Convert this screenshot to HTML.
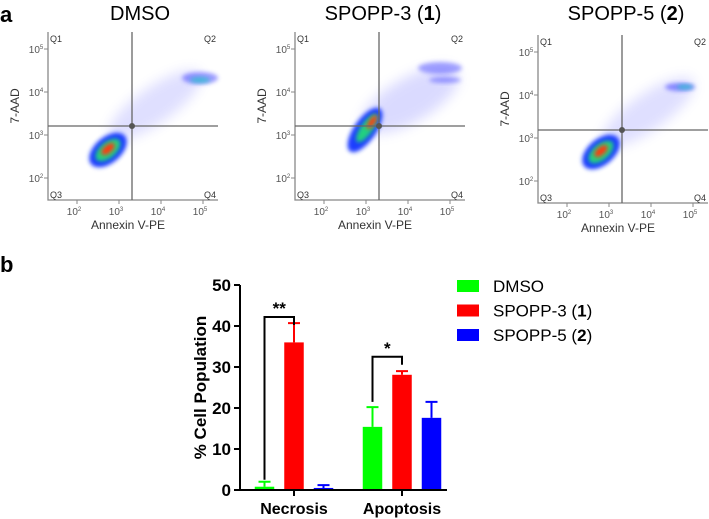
<!DOCTYPE html>
<html><head><meta charset="utf-8"><style>
body{margin:0;background:#fff;width:709px;height:519px;overflow:hidden;font-family:"Liberation Sans",sans-serif}
svg{position:absolute;left:0;top:0}
</style></head><body>
<svg width="709" height="519" viewBox="0 0 709 519">
<defs>
<filter id="b2" x="-50%" y="-50%" width="200%" height="200%"><feGaussianBlur stdDeviation="2"/></filter>
<filter id="b4" x="-50%" y="-50%" width="200%" height="200%"><feGaussianBlur stdDeviation="6"/></filter>
</defs>
<text x="0" y="22" font-size="22" font-weight="bold">a</text>
<text x="0" y="272" font-size="22" font-weight="bold">b</text>
<g id="flows"></g>
<g id="bars"></g>
</svg>
<script>
const NS="http://www.w3.org/2000/svg";
function mk(p,t,a,txt){const e=document.createElementNS(NS,t);for(const k in a)e.setAttribute(k,a[k]);if(txt!==undefined)e.textContent=txt;p.appendChild(e);return e;}
// ---------- flow plots ----------
const flowTitles=["DMSO","SPOPP-3 (1)","SPOPP-5 (2)"];
const flowLeft=[48,295,538];
const flowTop=[32,32,35];
const flowCenter=[140,383,626];
const gateX=[132,379,622];
const gateY=[126,126,130];
const fg=document.getElementById('flows');
for(let i=0;i<3;i++){
  const L=flowLeft[i],T=flowTop[i],W=170,H=168;
  const g=mk(fg,'g',{});
  
  
  const tt=mk(g,'text',{x:flowCenter[i],y:20,'font-size':20,'text-anchor':'middle'});
  
  
  if(i==0)tt.textContent="DMSO";
  else{tt.textContent=(i==1?"SPOPP-3 (":"SPOPP-5 (");mk(tt,'tspan',{'font-weight':'bold'},i==1?"1":"2");mk(tt,'tspan',{},")");}
  const cg=mk(g,'g',{});
  
  
  if(i==0){
    mk(cg,'ellipse',{cx:155,cy:105,rx:55,ry:18,fill:'#7070ff',opacity:.22,transform:'rotate(-35 155 105)',filter:'url(#b4)'});
    mk(cg,'ellipse',{cx:200,cy:78,rx:18,ry:6,fill:'#3b3bff',opacity:.5,filter:'url(#b2)'});
    mk(cg,'ellipse',{cx:200,cy:80,rx:10,ry:3,fill:'#30c0d0',opacity:.8,filter:'url(#b2)'});
    mk(cg,'ellipse',{cx:108,cy:150,rx:22,ry:13,fill:'#1f3cff',transform:'rotate(-40 108 150)',filter:'url(#b2)'});
    mk(cg,'ellipse',{cx:108,cy:150,rx:15,ry:8,fill:'#20d080',transform:'rotate(-40 108 150)',filter:'url(#b2)'});
    mk(cg,'ellipse',{cx:108,cy:149,rx:8,ry:4,fill:'#ff3a10',transform:'rotate(-40 108 149)',filter:'url(#b2)'});
  }else if(i==1){
    mk(cg,'ellipse',{cx:410,cy:100,rx:55,ry:22,fill:'#7070ff',opacity:.25,transform:'rotate(-30 410 100)',filter:'url(#b4)'});
    mk(cg,'ellipse',{cx:440,cy:68,rx:22,ry:6,fill:'#3b3bff',opacity:.45,filter:'url(#b2)'});
    mk(cg,'ellipse',{cx:445,cy:80,rx:16,ry:3,fill:'#3b3bff',opacity:.45,filter:'url(#b2)'});
    mk(cg,'ellipse',{cx:365,cy:130,rx:26,ry:11,fill:'#1f3cff',transform:'rotate(-55 365 130)',filter:'url(#b2)'});
    mk(cg,'ellipse',{cx:367,cy:128,rx:17,ry:6,fill:'#20d080',transform:'rotate(-55 367 128)',filter:'url(#b2)'});
    mk(cg,'ellipse',{cx:372,cy:122,rx:8,ry:3,fill:'#ff3a10',transform:'rotate(-55 372 122)',filter:'url(#b2)'});
  }else{
    mk(cg,'ellipse',{cx:648,cy:112,rx:55,ry:18,fill:'#7070ff',opacity:.22,transform:'rotate(-35 648 112)',filter:'url(#b4)'});
    mk(cg,'ellipse',{cx:680,cy:87,rx:15,ry:4,fill:'#3b3bff',opacity:.55,filter:'url(#b2)'});
    mk(cg,'ellipse',{cx:685,cy:87,rx:8,ry:2.5,fill:'#30c0d0',opacity:.8,filter:'url(#b2)'});
    mk(cg,'ellipse',{cx:601,cy:152,rx:22,ry:13,fill:'#1f3cff',transform:'rotate(-40 601 152)',filter:'url(#b2)'});
    mk(cg,'ellipse',{cx:601,cy:152,rx:15,ry:8,fill:'#20d080',transform:'rotate(-40 601 152)',filter:'url(#b2)'});
    mk(cg,'ellipse',{cx:601,cy:151,rx:8,ry:4,fill:'#ff3a10',transform:'rotate(-40 601 151)',filter:'url(#b2)'});
  }
  mk(g,'path',{d:`M${L} ${T}V${T+H}H${L+W}`,stroke:'#888',fill:'none','stroke-width':1.3});
  mk(g,'line',{x1:gateX[i],y1:T,x2:gateX[i],y2:T+H,stroke:'#666','stroke-width':1.3});
  mk(g,'line',{x1:L,y1:gateY[i],x2:L+W,y2:gateY[i],stroke:'#666','stroke-width':1.3});
  mk(g,'circle',{cx:gateX[i],cy:gateY[i],r:3,fill:'#555'});
  const q=[["Q1",L+2,T+10,'start'],["Q2",L+W-2,T+10,'end'],["Q3",L+2,T+H-2,'start'],["Q4",L+W-2,T+H-2,'end']];
  q.forEach(a=>{const t=mk(g,'text',{x:a[1],y:a[2],'font-size':9,'text-anchor':a[3],fill:'#333'},a[0]);});
  for(let d=0;d<4;d++){
    const xx=L+29+d*42, yy=T+17+d*43;
    mk(g,'line',{x1:xx,y1:T+H,x2:xx,y2:T+H+4,stroke:'#888'});
    mk(g,'line',{x1:L,y1:yy,x2:L-4,y2:yy,stroke:'#888'});
    const tx=mk(g,'text',{x:xx-3,y:T+H+15,'font-size':10,'text-anchor':'middle',fill:'#555'},'10');
    mk(tx,'tspan',{dy:-4,'font-size':6},String(d+2));
    
    const ty=mk(g,'text',{x:L-12,y:yy+4,'font-size':10,'text-anchor':'middle',fill:'#555'},'10');
    mk(ty,'tspan',{dy:-4,'font-size':6},String(5-d));
    
  }
  const xl=mk(g,'text',{x:L+W/2-5,y:T+H+29,'font-size':12,'text-anchor':'middle',fill:'#333'},'Annexin V-PE');
  
  const yl=mk(g,'text',{x:0,y:0,'font-size':12,'text-anchor':'middle',fill:'#333',transform:`translate(${L-29},${T+H/2-10}) rotate(-90)`},'7-AAD');
  
}
// ---------- bar chart ----------
const categories=["Necrosis","Apoptosis"];
const seriesNames=["DMSO","SPOPP-3","SPOPP-5"];
const seriesColors=["#00ff00","#ff0000","#0000ff"];
const dmsoVals=[0.8,15.4];
const dmsoErr=[1.2,4.8];
const spopp3Vals=[36,28.1];
const spopp3Err=[4.7,0.9];
const spopp5Vals=[0.5,17.6];
const spopp5Err=[0.7,3.9];
const yTicks=[0,10,20,30,40,50];
const vals=[dmsoVals,spopp3Vals,spopp5Vals];
const errs=[dmsoErr,spopp3Err,spopp5Err];
const y0=490,yPer=4.1,axX=240,axEnd=447;
const ys=v=>y0-v*yPer;
const catCenter=[294,402];
const barW=19.5,step=29.5;
const bx=(c,s)=>catCenter[c]+(s-1)*step-barW/2;
const bg=document.getElementById('bars');
for(let s=0;s<3;s++)for(let c=0;c<2;c++){
  const v=vals[s][c],e=errs[s][c],x=bx(c,s),col=seriesColors[s];
  const r=mk(bg,'rect',{x:x,y:ys(v),width:barW,height:y0-ys(v),fill:col});
  
  
  const cx=x+barW/2;
  const eb=mk(bg,'path',{d:`M${cx} ${ys(v)}V${ys(v+e)}M${cx-6} ${ys(v+e)}H${cx+6}`,stroke:col,'stroke-width':2,fill:'none'});
  
  
}
mk(bg,'path',{d:`M${axX} ${ys(50)}V${y0}H${axEnd}`,stroke:'#000','stroke-width':2,fill:'none'});
yTicks.forEach(t=>{
  mk(bg,'line',{x1:axX,x2:axX-6,y1:ys(t),y2:ys(t),stroke:'#000','stroke-width':2});
  const l=mk(bg,'text',{x:axX-9,y:ys(t)+6,'font-size':17,'font-weight':'bold','text-anchor':'end'},String(t));
  
});
categories.forEach((c,i)=>{
  mk(bg,'line',{x1:catCenter[i],x2:catCenter[i],y1:y0,y2:y0+6,stroke:'#000','stroke-width':2});
  const l=mk(bg,'text',{x:catCenter[i],y:514,'font-size':16,'font-weight':'bold','text-anchor':'middle'},c);
  
});
const yt=mk(bg,'text',{x:0,y:0,'font-size':17,'font-weight':'bold','text-anchor':'middle',transform:`translate(206,${ys(25)}) rotate(-90)`},'% Cell Population');

const sig=[[bx(0,0)+barW/2,bx(0,1)+barW/2,ys(42.2),ys(2.5),'**'],[bx(1,0)+barW/2,bx(1,1)+barW/2,ys(32.5),ys(21.5),'*']];
sig.forEach(a=>{
  const p=mk(bg,'path',{d:`M${a[0]} ${a[3]}V${a[2]}H${a[1]}V${a[2]+8}`,stroke:'#000','stroke-width':2,fill:'none'});
  
  const t=mk(bg,'text',{x:(a[0]+a[1])/2,y:a[2]-3,'font-size':17,'font-weight':'bold','text-anchor':'middle'},a[4]);
  
});
const legLabels=[["DMSO",""],["SPOPP-3 (","1"],["SPOPP-5 (","2"]];
legLabels.forEach((l,i)=>{
  const y=280+i*24.5;
  const sw=mk(bg,'rect',{x:457,y:y,width:22,height:12,fill:seriesColors[i]});
  
  const t=mk(bg,'text',{x:493,y:y+12,'font-size':17},l[0]);
  if(l[1]){mk(t,'tspan',{'font-weight':'bold'},l[1]);mk(t,'tspan',{},')');}
  
});
</script>
</body></html>
